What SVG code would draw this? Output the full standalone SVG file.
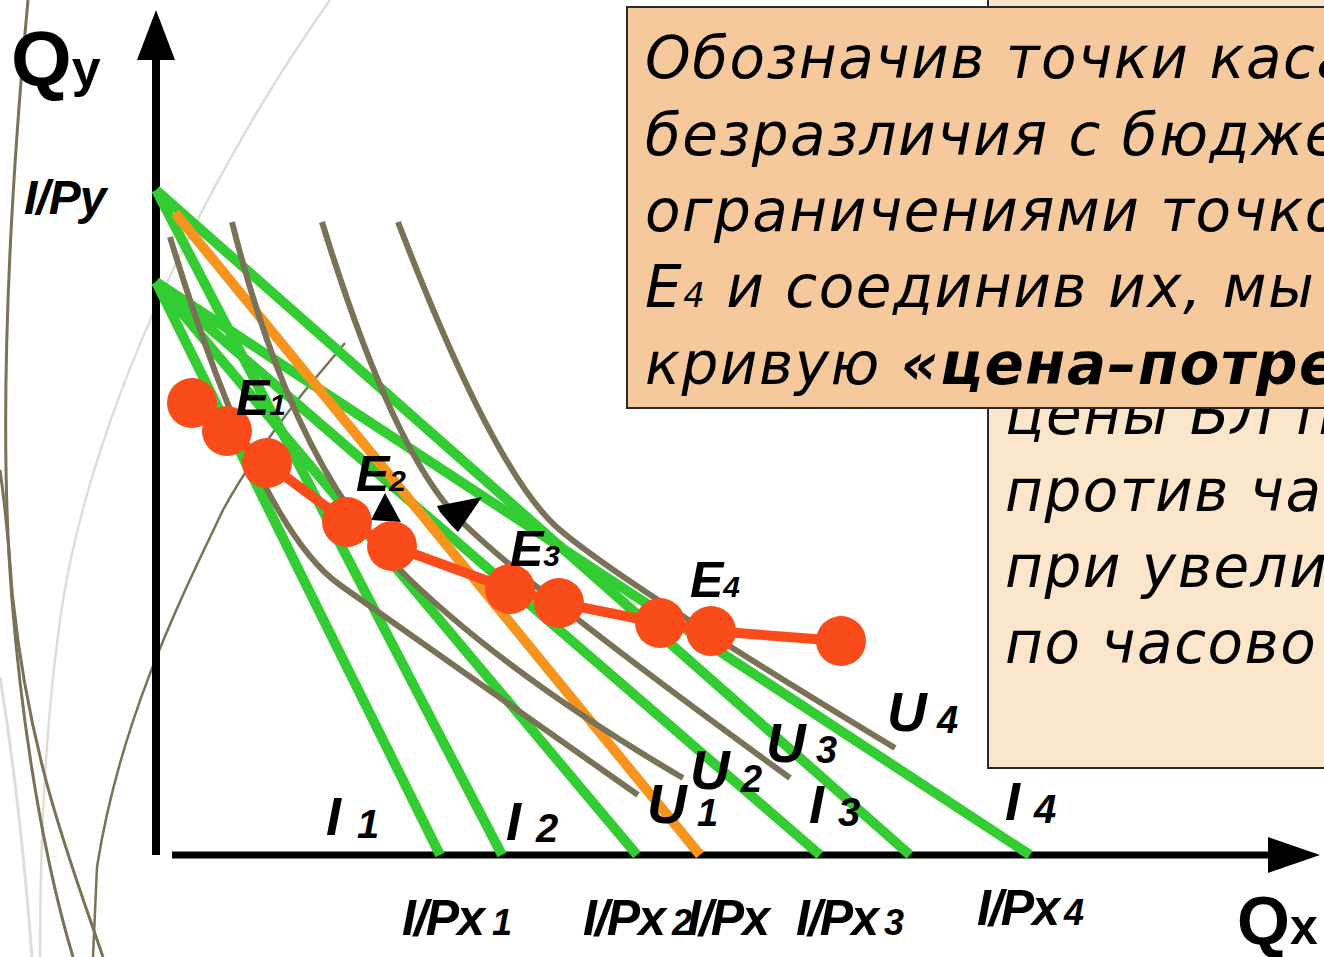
<svg xmlns="http://www.w3.org/2000/svg" width="1324" height="957" viewBox="0 0 1324 957">
  <style>
    .lbl { font-family: "Liberation Sans", Arial, sans-serif; font-weight: bold; font-style: italic; fill: #000; }
    .ax { font-family: "Liberation Sans", Arial, sans-serif; font-weight: bold; fill: #000; }
    .note { font-family: "DejaVu Sans", "Noto Sans", sans-serif; font-style: italic; font-size: 58px; letter-spacing: 1.5px; fill: #000; }
    .price { font-size: 50px; letter-spacing: -2px; }
    .budget { stroke: #33CC33; stroke-width: 10; fill: none; }
    .indiff { stroke: #7A7256; stroke-width: 6; fill: none; }
    .dot { fill: #FA4B1A; }
  </style>

  <rect width="1324" height="957" fill="#FFFFFF"/>

  <!-- decorative background strokes at the left edge -->
  <g id="background" fill="none">
    <path d="M330,0 C230,140 100,380 63,600 Q40,750 40,957" stroke="#DEDED8" stroke-width="2.5"/>
    <path d="M0,677 Q20,800 32,957" stroke="#DEDED8" stroke-width="3"/>
    <path d="M28,0 C5,250 0,450 12,600 C25,760 50,880 73,957" stroke="#7A7256" stroke-width="3"/>
    <path d="M0,470 C10,540 12,600 13,600 C30,760 70,860 103,957" stroke="#7A7256" stroke-width="3"/>
    <path d="M345,343 L303,393 Q250,460 223,510 C180,600 120,720 97,867 L93,957" stroke="#7A7256" stroke-width="2.5"/>
  </g>

  <!-- axes -->
  <g id="axes">
    <line x1="156" y1="855" x2="156" y2="55" stroke="#000" stroke-width="8"/>
    <polygon points="156,10 137,60 175,60" fill="#000"/>
    <line x1="172" y1="855" x2="1272" y2="855" stroke="#000" stroke-width="7"/>
    <polygon points="1320,855 1268,837 1268,873" fill="#000"/>
    <text class="ax" x="11" y="86" font-size="78">Q<tspan font-size="52">y</tspan></text>
    <text class="ax" x="1237" y="944" font-size="68">Q<tspan font-size="50">x</tspan></text>
  </g>

  <!-- connectors: budget lines, indifference curves, consumption path -->
  <g id="connectors">
    <line class="budget" x1="156" y1="282" x2="440" y2="855"/>
    <line class="budget" x1="156" y1="190" x2="502" y2="855"/>
    <line class="budget" x1="156" y1="282" x2="637" y2="855"/>
    <line class="budget" x1="156" y1="282" x2="820" y2="855"/>
    <line class="budget" x1="156" y1="190" x2="910" y2="855"/>
    <line class="budget" x1="156" y1="282" x2="1030" y2="855"/>
    <line x1="175" y1="213" x2="700" y2="855" stroke="#F7941D" stroke-width="10"/>

    <path class="indiff" d="M170,237 Q258,527 340,585 T638,795"/>
    <path class="indiff" d="M232,222 Q292,462 397,567 T683,778"/>
    <path class="indiff" d="M322,222 Q393,453 460,520 T790,778"/>
    <path class="indiff" d="M398,222 Q495,475 560,530 T895,748"/>

    <polyline points="192,403 227,431 267,463 347,522 392,546 510,589 559,603 660,623 711,631 841,641" fill="none" stroke="#FA4B1A" stroke-width="10"/>

    <polygon points="385,493 371,520 401,522" fill="#000"/>
    <polygon points="437,506 482,497 465,522 458,532 452,526 440,512" fill="#000"/>
  </g>

  <!-- equilibrium points -->
  <g id="E1">
    <circle class="dot" cx="192" cy="403" r="25"/>
    <circle class="dot" cx="227" cy="431" r="25"/>
    <circle class="dot" cx="267" cy="463" r="25"/>
    <text class="lbl" x="236" y="415" font-size="50">E<tspan font-size="30">1</tspan></text>
  </g>
  <g id="E2">
    <circle class="dot" cx="347" cy="522" r="25"/>
    <circle class="dot" cx="392" cy="546" r="25"/>
    <text class="lbl" x="356" y="491" font-size="50">E<tspan font-size="30">2</tspan></text>
  </g>
  <g id="E3">
    <circle class="dot" cx="510" cy="589" r="25"/>
    <circle class="dot" cx="559" cy="603" r="25"/>
    <text class="lbl" x="510" y="566" font-size="50">E<tspan font-size="30">3</tspan></text>
  </g>
  <g id="E4">
    <circle class="dot" cx="660" cy="623" r="25"/>
    <circle class="dot" cx="711" cy="631" r="25"/>
    <circle class="dot" cx="841" cy="641" r="25"/>
    <text class="lbl" x="690" y="597" font-size="50">E<tspan font-size="30">4</tspan></text>
  </g>

  <!-- curve and line labels -->
  <g id="labels">
    <text class="lbl" x="647" y="823" font-size="55">U<tspan x="697" y="826" font-size="38">1</tspan></text>
    <text class="lbl" x="690" y="789" font-size="55">U<tspan x="741" y="792" font-size="38">2</tspan></text>
    <text class="lbl" x="766" y="762" font-size="55">U<tspan x="816" y="763" font-size="38">3</tspan></text>
    <text class="lbl" x="887" y="731" font-size="55">U<tspan x="937" y="733" font-size="38">4</tspan></text>

    <text class="lbl" x="326" y="835" font-size="54">I<tspan x="357" y="838" font-size="40">1</tspan></text>
    <text class="lbl" x="506" y="840" font-size="54">I<tspan x="536" y="842" font-size="40">2</tspan></text>
    <text class="lbl" x="809" y="823" font-size="54">I<tspan x="838" y="826" font-size="40">3</tspan></text>
    <text class="lbl" x="1005" y="820" font-size="54">I<tspan x="1034" y="823" font-size="40">4</tspan></text>

    <text class="lbl" x="24" y="214" font-size="48" letter-spacing="-1">I/Py</text>
    <text class="lbl price" x="402" y="935">I/Px<tspan x="492" font-size="36" letter-spacing="0">1</tspan></text>
    <text class="lbl price" x="583" y="935">I/Px<tspan x="672" font-size="36" letter-spacing="0">2</tspan></text>
    <text class="lbl price" x="687" y="935">I/Px</text>
    <text class="lbl price" x="796" y="935">I/Px<tspan x="884" font-size="36" letter-spacing="0">3</tspan></text>
    <text class="lbl price" x="977" y="925">I/Px<tspan x="1064" font-size="36" letter-spacing="0">4</tspan></text>
  </g>

  <!-- explanatory note boxes -->
  <g id="note-back">
    <rect x="988" y="-10" width="400" height="778" fill="#FBE5CB" stroke="#2A2A2A" stroke-width="2"/>
    <text class="note" x="1005" y="434">цены БЛ п</text>
    <text class="note" x="1005" y="511">против час</text>
    <text class="note" x="1005" y="587">при увели</text>
    <text class="note" x="1005" y="663">по часово</text>
  </g>
  <g id="note-front">
    <rect x="627" y="7" width="760" height="401" fill="#F5C99C" stroke="#2A2A2A" stroke-width="2"/>
    <text class="note" x="645" y="78">Обозначив точки каса</text>
    <text class="note" x="645" y="155">безразличия с бюдже</text>
    <text class="note" x="645" y="231">ограничениями точко</text>
    <text class="note" x="645" y="307">E<tspan font-size="34">4</tspan> и соединив их, мы</text>
    <text class="note" x="645" y="384">кривую <tspan font-weight="bold">«цена–потреб</tspan></text>
  </g>
</svg>
